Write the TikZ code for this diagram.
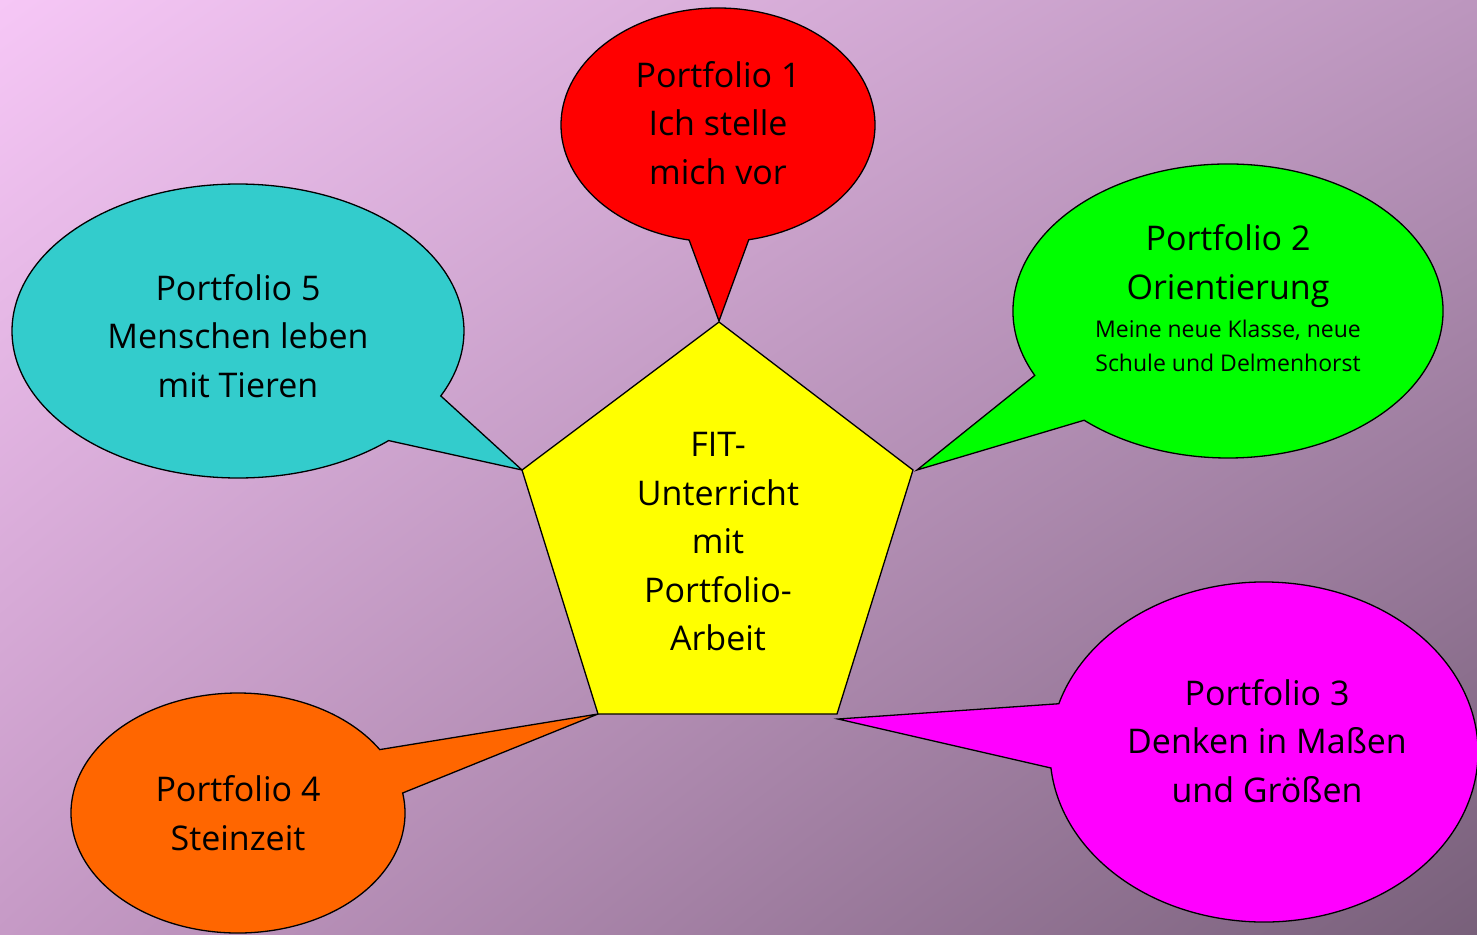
\documentclass[tikz,border=0pt]{standalone}
\usepackage{fontspec}
\setmainfont{Open Sans}
\usetikzlibrary{shadings}
\definecolor{bgTL}{RGB}{246,199,246}
\definecolor{bgTR}{RGB}{188,150,190}
\definecolor{bgBL}{RGB}{198,154,198}
\definecolor{bgBR}{RGB}{120,96,122}
\definecolor{cRed}{RGB}{255,0,0}
\definecolor{cGreen}{RGB}{0,255,0}
\definecolor{cCyan}{RGB}{51,204,204}
\definecolor{cOrange}{RGB}{255,102,0}
\definecolor{cMagenta}{RGB}{255,0,255}
\definecolor{cYellow}{RGB}{255,255,0}
\tikzset{
  outline/.style={draw=black, line width=1.3pt, line join=miter},
  bigtext/.style={align=center, font=\fontsize{34}{48.5}\selectfont, inner sep=0pt},
  smalltext/.style={font=\fontsize{23}{34}\selectfont}
}
\begin{document}
\begin{tikzpicture}[x=1pt,y=-1pt]
\useasboundingbox (0,0) rectangle (1477,934);
\shade[upper left=bgTL, upper right=bgTR, lower left=bgBL, lower right=bgBR] (0,0) rectangle (1477,934);

% Portfolio 1 (red)
\path[outline, fill=cRed] (718,125) ++(100.6:157 and 117)
  arc[start angle=100.6, end angle=438.7, x radius=157, y radius=117] -- (719,321) -- cycle;
% Portfolio 2 (green)
\path[outline, fill=cGreen] (1228,311) ++(154.0:215 and 147)
  arc[start angle=154.0, end angle=492.0, x radius=215, y radius=147] -- (917,470) -- cycle;
% Portfolio 5 (cyan)
\path[outline, fill=cCyan] (238,331) ++(48.2:226 and 147)
  arc[start angle=48.2, end angle=386.2, x radius=226, y radius=147] -- (522,470) -- cycle;
% Portfolio 4 (orange)
\path[outline, fill=cOrange] (238,813) ++(-9.6:167 and 120)
  arc[start angle=-9.6, end angle=328.1, x radius=167, y radius=120] -- (598,714) -- cycle;
% Portfolio 3 (magenta)
\path[outline, fill=cMagenta] (1264,752) ++(196.5:214 and 170)
  arc[start angle=196.5, end angle=534.6, x radius=214, y radius=170] -- (838,719) -- cycle;

% Pentagon
\path[outline, fill=cYellow] (719,322) -- (913,470) -- (837,714) -- (598,714) -- (522,470) -- cycle;

% Texts
\node[bigtext] (t1) at (718,123) {Portfolio 1\\Ich stelle\\mich vor};
\node[bigtext] (t2) at (1228,266) {Portfolio 2\\Orientierung};
\node[align=center, inner sep=0pt, smalltext] (t2b) at (1228,346) {Meine neue Klasse, neue\\Schule und Delmenhorst};
\node[bigtext] (t5) at (238,336) {Portfolio 5\\Menschen leben\\mit Tieren};
\node[bigtext] (t4) at (238,813) {Portfolio 4\\Steinzeit};
\node[bigtext] (t3) at (1267,741) {Portfolio 3\\Denken in Maßen\\und Größen};
\node[bigtext] (tc) at (718,542) {FIT-\\Unterricht\\mit\\Portfolio-\\Arbeit};
\end{tikzpicture}
\end{document}
